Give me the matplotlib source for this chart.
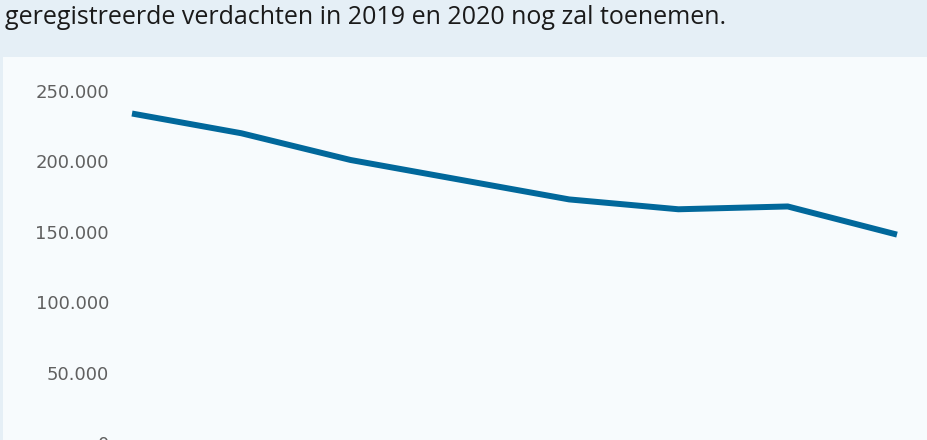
#!/usr/bin/env python3
# -*- coding: utf-8 -*-

"""
Line chart: registered suspects (geregistreerde verdachten) per year.
"""

import matplotlib as mpl
mpl.use('Agg')
import matplotlib.pyplot as plt
from matplotlib.patches import Rectangle
from matplotlib.ticker import FuncFormatter, MultipleLocator

# Data.
jaren = [2011, 2012, 2013, 2014, 2015, 2016, 2017, 2018]
verdachten = [234000, 220000, 201000, 187000, 173000, 166000, 168000, 148000]

kop = 'geregistreerde verdachten in 2019 en 2020 nog zal toenemen.'

# Colours.
kleur_kop = '#e5eff6'
kleur_paneel = '#f7fbfd'
kleur_lijn = '#01689b'
kleur_tekst = '#606060'

W, H = 928, 440
fig = plt.figure(figsize = (W / 100, H / 100), dpi = 100)
fig.patch.set_facecolor(kleur_kop)

# Light panel behind the chart.
fig.patches.append(Rectangle(
    (3 / W, 0), 1, (H - 57) / H,
    transform = fig.transFigure,
    facecolor = kleur_paneel,
    edgecolor = 'none',
    zorder = -5
))

# Header line (last line of the intro paragraph).
fig.text(
    5 / W, 1 - 24 / H, kop,
    fontsize = 18,
    family = ['Open Sans', 'DejaVu Sans'],
    color = '#1a1a1a',
    va = 'baseline',
    ha = 'left'
)

# Axes placed so that y = 0 lies just below the bottom edge.
ymax = 260000
px_per_unit = 70.4 / 50000
y0 = 443
ytop = y0 - ymax * px_per_unit
x_left, x_right = 132, 897
ax = fig.add_axes([
    x_left / W,
    (H - y0) / H,
    (x_right - x_left) / W,
    (y0 - ytop) / H
])
ax.set_facecolor('none')
ax.set_zorder(2)

ax.plot(
    range(len(jaren)),
    verdachten,
        color = kleur_lijn,
        linewidth = 4.3,
        solid_capstyle = 'butt',
        solid_joinstyle = 'round',
        clip_on = False
)

ax.set_xlim(0, len(jaren) - 1)
ax.set_ylim(0, ymax)
# The year labels lie below the visible part of the chart.
ax.set_xticks(range(len(jaren)))
ax.set_xticklabels([])
ax.yaxis.set_major_locator(MultipleLocator(50000))
ax.yaxis.set_major_formatter(
    FuncFormatter(lambda v, p: '{:,.0f}'.format(v).replace(',', '.'))
)

for side in ax.spines.values():
    side.set_visible(False)
ax.tick_params(axis = 'both', length = 0, colors = kleur_tekst)
ax.tick_params(axis = 'y', pad = 16.5)
for lab in ax.get_yticklabels():
    lab.set_family(['DejaVu Sans'])
    lab.set_fontsize(13)
    lab.set_color(kleur_tekst)

fig.savefig('out.png', dpi = 100, facecolor = fig.get_facecolor())
